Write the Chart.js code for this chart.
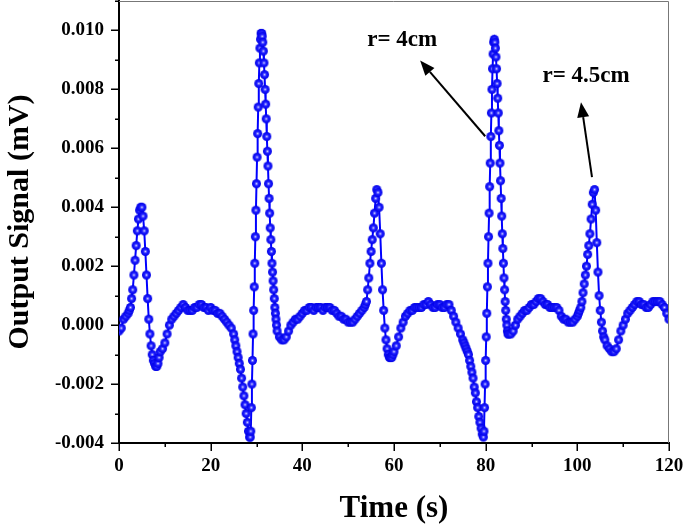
<!DOCTYPE html>
<html>
<head>
<meta charset="utf-8">
<script src="https://cdn.jsdelivr.net/npm/chart.js@4.4.0/dist/chart.umd.min.js"></script>
<style>
    html, body { margin: 0; padding: 0; background: #fff; }
</style>
</head>
<body>
<canvas id="signalChart" width="685" height="526"></canvas>
<script>
// Time axis (s). Denser sampling where the trace moves fast.
const timeS = [
    0, 0.5, 1, 1.5,
    2, 2.25, 2.5, 2.75, 3, 3.25, 3.5, 3.75, 4, 4.25, 4.5, 4.75, 5, 5.25, 5.5, 5.75, 6, 6.25, 6.5, 6.75, 7, 7.25, 7.5, 7.75, 8, 8.25, 8.5, 8.75, 9,
    9.5, 10, 10.5, 11, 11.5, 12, 12.5, 13, 13.5, 14, 14.5, 15, 15.5, 16, 16.5, 17, 17.5, 18, 18.5, 19, 19.5, 20, 20.5, 21, 21.5, 22, 22.5, 23, 23.5, 24, 24.5, 25,
    25.25, 25.5, 25.75, 26, 26.25, 26.5, 26.75, 27, 27.25, 27.5, 27.75, 28, 28.25, 28.5,
    28.625, 28.75, 28.875, 29, 29.125, 29.25, 29.375, 29.5, 29.625, 29.75, 29.875, 30, 30.125, 30.25, 30.375, 30.5, 30.625, 30.75, 30.875, 31, 31.125,
    31.25, 31.375, 31.5, 31.625, 31.75, 31.875, 32, 32.125, 32.25, 32.375, 32.5, 32.625, 32.75, 32.875, 33, 33.125, 33.25, 33.375, 33.5, 33.625, 33.75, 33.875, 34, 34.125, 34.25, 34.375, 34.5,
    35, 35.5, 36, 36.5, 37, 37.5, 38, 38.5, 39, 39.5, 40, 40.5, 41, 41.5, 42, 42.5, 43, 43.5, 44, 44.5, 45, 45.5, 46, 46.5, 47, 47.5, 48, 48.5, 49, 49.5, 50, 50.5, 51, 51.5, 52, 52.5, 53, 53.5,
    53.75, 54, 54.25, 54.5, 54.75, 55, 55.25, 55.5, 55.75, 56, 56.25, 56.5, 56.75, 57, 57.25, 57.5, 57.75, 58, 58.25, 58.5, 58.75, 59, 59.25, 59.5, 59.75, 60,
    60.5, 61, 61.5, 62, 62.5, 63, 63.5, 64, 64.5, 65, 65.5, 66, 66.5, 67, 67.5, 68, 68.5, 69, 69.5, 70, 70.5, 71, 71.5, 72, 72.5, 73, 73.5, 74, 74.5, 75,
    75.25, 75.5, 75.75, 76, 76.25, 76.5, 76.75, 77, 77.25, 77.5, 77.75, 78, 78.25, 78.5, 78.75, 79, 79.25, 79.5,
    79.625, 79.75, 79.875, 80, 80.125, 80.25, 80.375, 80.5, 80.625, 80.75, 80.875, 81, 81.125, 81.25, 81.375, 81.5, 81.625, 81.75, 81.875,
    82, 82.125, 82.25, 82.375, 82.5, 82.625, 82.75, 82.875, 83, 83.125, 83.25, 83.375, 83.5, 83.625, 83.75, 83.875, 84, 84.125, 84.25, 84.375, 84.5, 84.625, 84.75, 84.875, 85,
    85.5, 86, 86.5, 87, 87.5, 88, 88.5, 89, 89.5, 90, 90.5, 91, 91.5, 92, 92.5, 93, 93.5, 94, 94.5, 95, 95.5, 96, 96.5, 97, 97.5, 98, 98.5, 99, 99.5, 100,
    100.25, 100.5, 100.75, 101, 101.25, 101.5, 101.75, 102, 102.25, 102.5, 102.75, 103, 103.25, 103.5, 103.75, 104, 104.25, 104.5, 104.75, 105, 105.25, 105.5, 105.75, 106,
    106.5, 107, 107.5, 108, 108.5, 109, 109.5, 110, 110.5, 111, 111.5, 112, 112.5, 113, 113.5, 114, 114.5, 115, 115.5, 116, 116.5, 117, 117.5, 118, 118.5, 119, 119.5, 120
];

// Output signal (mV), one value per time above (same line layout)
const signalMV = [
    -0.0002, -0.0001, 0.0002, 0.0003,
    0.0004, 0.0005, 0.0006, 0.0009, 0.0012, 0.0017, 0.0022, 0.0027, 0.0032, 0.0036, 0.0039, 0.0040, 0.0040, 0.0037, 0.0032, 0.0025, 0.0017, 0.0009, 0.0002, -0.0003, -0.0007, -0.0010, -0.0012, -0.0013, -0.0014, -0.0014, -0.0013, -0.0011, -0.0009,
    -0.0008, -0.0006, -0.0003, 0.0000, 0.0002, 0.0003, 0.0004, 0.0005, 0.0006, 0.0007, 0.0006, 0.0005, 0.0005, 0.0005, 0.0006, 0.0006, 0.0007, 0.0007, 0.0006, 0.0006, 0.0005, 0.0006, 0.0005, 0.0005, 0.0004, 0.0004, 0.0003, 0.0002, 0.0001, 0.0000, -0.0001, -0.0003,
    -0.0005, -0.0007, -0.0009, -0.0011, -0.0013, -0.0015, -0.0018, -0.0021, -0.0024, -0.0027, -0.0030, -0.0033, -0.0036, -0.0038,
    -0.0038, -0.0036, -0.0028, -0.0020, -0.0012, -0.0003, 0.0005, 0.0013, 0.0021, 0.0030, 0.0039, 0.0048, 0.0057, 0.0065, 0.0074, 0.0082, 0.0089, 0.0094, 0.0097, 0.0099, 0.0099,
    0.0098, 0.0096, 0.0093, 0.0089, 0.0085, 0.0080, 0.0075, 0.0070, 0.0064, 0.0059, 0.0054, 0.0048, 0.0043, 0.0038, 0.0033, 0.0029, 0.0025, 0.0021, 0.0018, 0.0015, 0.0012, 0.0009, 0.0006, 0.0004, 0.0002, 0.0000, -0.0002,
    -0.0004, -0.0005, -0.0005, -0.0004, -0.0002, 0.0000, 0.0001, 0.0002, 0.0002, 0.0003, 0.0004, 0.0005, 0.0005, 0.0006, 0.0006, 0.0005, 0.0006, 0.0006, 0.0006, 0.0005, 0.0006, 0.0006, 0.0006, 0.0005, 0.0005, 0.0004, 0.0003, 0.0003, 0.0002, 0.0002, 0.0001, 0.0001, 0.0001, 0.0002, 0.0003, 0.0004, 0.0005, 0.0006,
    0.0007, 0.0008, 0.0012, 0.0016, 0.0021, 0.0025, 0.0029, 0.0033, 0.0038, 0.0043, 0.0046, 0.0045, 0.0040, 0.0031, 0.0021, 0.0012, 0.0005, -0.0001, -0.0005, -0.0008, -0.0010, -0.0011, -0.0011, -0.0011, -0.0010, -0.0009,
    -0.0007, -0.0004, -0.0001, 0.0001, 0.0003, 0.0004, 0.0005, 0.0005, 0.0006, 0.0006, 0.0006, 0.0006, 0.0007, 0.0007, 0.0008, 0.0007, 0.0006, 0.0006, 0.0007, 0.0007, 0.0006, 0.0006, 0.0007, 0.0007, 0.0005, 0.0003, 0.0001, -0.0001, -0.0003, -0.0005,
    -0.0006, -0.0007, -0.0008, -0.0009, -0.0010, -0.0012, -0.0014, -0.0016, -0.0018, -0.0021, -0.0023, -0.0026, -0.0028, -0.0031, -0.0033, -0.0035, -0.0037, -0.0038,
    -0.0036, -0.0028, -0.0020, -0.0012, -0.0004, 0.0004, 0.0013, 0.0021, 0.0030, 0.0038, 0.0047, 0.0055, 0.0064, 0.0072, 0.0080, 0.0087, 0.0092, 0.0096, 0.0097,
    0.0096, 0.0094, 0.0091, 0.0087, 0.0082, 0.0077, 0.0072, 0.0066, 0.0061, 0.0055, 0.0049, 0.0043, 0.0037, 0.0031, 0.0026, 0.0021, 0.0016, 0.0012, 0.0008, 0.0005, 0.0002, 0.0000, -0.0002, -0.0003, -0.0003,
    -0.0003, -0.0002, 0.0000, 0.0002, 0.0003, 0.0004, 0.0005, 0.0005, 0.0006, 0.0007, 0.0007, 0.0008, 0.0009, 0.0009, 0.0008, 0.0007, 0.0007, 0.0006, 0.0006, 0.0006, 0.0006, 0.0005, 0.0003, 0.0002, 0.0002, 0.0001, 0.0001, 0.0001, 0.0002, 0.0003,
    0.0004, 0.0005, 0.0006, 0.0008, 0.0011, 0.0014, 0.0017, 0.0020, 0.0024, 0.0027, 0.0031, 0.0036, 0.0041, 0.0045, 0.0046, 0.0039, 0.0028, 0.0018, 0.0010, 0.0005, 0.0001, -0.0002, -0.0004, -0.0005,
    -0.0007, -0.0008, -0.0009, -0.0009, -0.0008, -0.0005, -0.0002, 0.0000, 0.0002, 0.0004, 0.0005, 0.0006, 0.0007, 0.0008, 0.0008, 0.0007, 0.0007, 0.0006, 0.0006, 0.0007, 0.0008, 0.0008, 0.0008, 0.0008, 0.0007, 0.0006, 0.0004, 0.0002
];

const xTickLabels = ['0', '20', '40', '60', '80', '100', '120'];
const yTickLabels = ['-0.004', '-0.002', '0.000', '0.002', '0.004', '0.006', '0.008', '0.010'];

// Arrow notes: label position, arrow tail and arrow head, all in data units
const noteTexts = ['r= 4cm', 'r= 4.5cm'];
const noteLabelAt = [[61.8, 0.00968], [101.9, 0.00846]];
const noteTail = [[79.9, 0.00641], [103.2, 0.00502]];
const noteHead = [[65.7, 0.00898], [100.8, 0.00756]];

const SERIF = '"Liberation Serif", "Times New Roman", serif';
Chart.defaults.font.family = SERIF;
Chart.defaults.font.weight = 'bold';
Chart.defaults.color = '#000';

// shaded ball marker like the original plot symbols
function makeBall(r) {
    const d = Math.ceil(r * 2) + 2;
    const c = document.createElement('canvas');
    c.width = d; c.height = d;
    const g = c.getContext('2d');
    const grad = g.createRadialGradient(d / 2, d / 2, 0, d / 2, d / 2, r);
    grad.addColorStop(0, '#dcdcff');
    grad.addColorStop(0.2, '#7a7aff');
    grad.addColorStop(0.45, '#1e1eff');
    grad.addColorStop(1, '#0000e6');
    g.fillStyle = grad;
    g.beginPath();
    g.arc(d / 2, d / 2, r, 0, Math.PI * 2);
    g.fill();
    return c;
}

// top/right frame plus major & minor tick marks
const frameTicks = {
    id: 'frameTicks',
    afterDraw(chart) {
        const { ctx, chartArea: a, scales: { x, y } } = chart;
        ctx.save();
        ctx.strokeStyle = '#777';
        ctx.lineWidth = 1;
        ctx.beginPath();
        ctx.moveTo(a.left, a.top + 0.5);
        ctx.lineTo(a.right - 0.5, a.top + 0.5);
        ctx.lineTo(a.right - 0.5, a.bottom);
        ctx.stroke();

        ctx.strokeStyle = '#000';
        ctx.lineWidth = 1.5;
        ctx.beginPath();
        x.ticks.forEach(t => {
            const px = Math.round(x.getPixelForValue(t.value)) + 0.25;
            const len = xTickLabels.includes(String(t.value)) ? 8 : 4;
            ctx.moveTo(px, a.bottom);
            ctx.lineTo(px, a.bottom + len);
        });
        y.ticks.forEach(t => {
            const py = Math.round(y.getPixelForValue(t.value)) + 0.25;
            const len = yTickLabels.includes(t.value.toFixed(3)) ? 8 : 4;
            ctx.moveTo(a.left, py);
            ctx.lineTo(a.left - len, py);
        });
        ctx.stroke();
        ctx.restore();
    }
};

// "r= ..." labels with arrows
const arrowNotes = {
    id: 'arrowNotes',
    afterDatasetsDraw(chart) {
        const { ctx, scales: { x, y } } = chart;
        ctx.save();
        ctx.fillStyle = '#000';
        ctx.strokeStyle = '#000';
        ctx.font = 'bold 23px ' + SERIF;
        ctx.textAlign = 'center';
        ctx.textBaseline = 'middle';
        noteTexts.forEach((txt, i) => {
            ctx.fillText(txt, x.getPixelForValue(noteLabelAt[i][0]), y.getPixelForValue(noteLabelAt[i][1]));

            const x0 = x.getPixelForValue(noteTail[i][0]), y0 = y.getPixelForValue(noteTail[i][1]);
            const x1 = x.getPixelForValue(noteHead[i][0]), y1 = y.getPixelForValue(noteHead[i][1]);
            const ang = Math.atan2(y1 - y0, x1 - x0);
            const headLen = 15, headHalf = 6;
            const bx = x1 - headLen * Math.cos(ang), by = y1 - headLen * Math.sin(ang);
            ctx.lineWidth = 2;
            ctx.beginPath();
            ctx.moveTo(x0, y0);
            ctx.lineTo(bx, by);
            ctx.stroke();
            ctx.beginPath();
            ctx.moveTo(x1, y1);
            ctx.lineTo(bx + headHalf * Math.sin(ang), by - headHalf * Math.cos(ang));
            ctx.lineTo(bx - headHalf * Math.sin(ang), by + headHalf * Math.cos(ang));
            ctx.closePath();
            ctx.fill();
        });
        ctx.restore();
    }
};

const ball = makeBall(4.5);

new Chart(document.getElementById('signalChart'), {
    type: 'line',
    data: {
        datasets: [{
            data: timeS.map((t, i) => ({ x: t, y: signalMV[i] })),
            borderColor: '#0000ff',
            borderWidth: 2,
            tension: 0,
            pointStyle: ball,
            pointRadius: 4.5,
            pointHoverRadius: 4.5
        }]
    },
    options: {
        responsive: false,
        animation: false,
        devicePixelRatio: 1,
        events: [],
        // no automatic room for the markers: the frame sits right at the top edge
        layout: { autoPadding: false, padding: { top: 1, right: 16, left: 0, bottom: 0 } },
        plugins: { legend: { display: false }, tooltip: { enabled: false } },
        scales: {
            x: {
                type: 'linear',
                min: 0,
                max: 120,
                border: { color: '#000', width: 2 },
                grid: { drawOnChartArea: false, drawTicks: true, tickLength: 8, tickColor: 'transparent' },
                ticks: {
                    stepSize: 10,
                    maxTicksLimit: 20,
                    autoSkip: false,
                    maxRotation: 0,
                    padding: 4,
                    font: { size: 19 },
                    callback: v => xTickLabels.includes(String(v)) ? String(v) : ''
                },
                title: {
                    display: true,
                    text: 'Time (s)',
                    font: { size: 31, lineHeight: 1 },
                    padding: { top: 0, bottom: 2 }
                },
                afterFit: s => { s.height = 83; s.paddingLeft = 0; s.paddingRight = 0; }
            },
            y: {
                type: 'linear',
                min: -0.004,
                max: 0.011,
                border: { color: '#000', width: 2 },
                grid: { drawOnChartArea: false, drawTicks: true, tickLength: 8, tickColor: 'transparent' },
                ticks: {
                    stepSize: 0.001,
                    maxTicksLimit: 20,
                    autoSkip: false,
                    padding: 7,
                    font: { size: 19 },
                    callback: v => {
                        const s = Number(v).toFixed(3);
                        return yTickLabels.includes(s) ? s : '';
                    }
                },
                title: {
                    display: true,
                    text: 'Output Signal (mV)',
                    font: { size: 30, lineHeight: 1 },
                    padding: { top: 5, bottom: 0 }
                },
                afterFit: s => { s.width = 119; s.paddingTop = 0; s.paddingBottom = 0; }
            }
        }
    },
    plugins: [frameTicks, arrowNotes]
});
</script>
</body>
</html>
